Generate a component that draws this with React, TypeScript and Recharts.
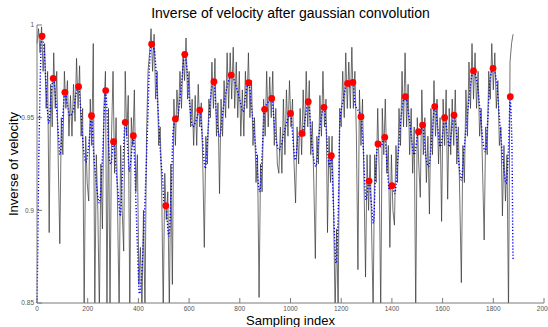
import React from 'react';
import { ComposedChart, Line, XAxis, YAxis } from 'recharts';

// raw signal, one reading every 6 samples (0, 6, 12 ... 1878)
const rawStep = 6;
const rawValues = [
  0.990, 0.998, 0.985, 0.999, 0.975, 0.990, 0.955, 0.975, 0.888, 0.968,
  0.945, 0.985, 0.955, 0.975, 0.925, 0.882, 0.950, 0.930, 0.975, 0.955,
  0.970, 0.940, 0.962, 0.940, 0.968, 0.948, 0.982, 0.955, 0.978, 0.940,
  0.955, 0.845, 0.940, 0.915, 0.905, 0.960, 0.935, 0.990, 0.845, 0.930,
  0.900, 0.845, 0.925, 0.890, 0.955, 0.975, 0.848, 0.955, 0.845, 0.940,
  0.975, 0.920, 0.950, 0.900, 0.845, 0.935, 0.900, 0.878, 0.975, 0.940,
  0.962, 0.845, 0.950, 0.935, 0.965, 0.910, 0.930, 0.860, 0.880, 0.845,
  0.900, 0.845, 0.940, 0.975, 0.985, 0.998, 0.975, 0.995, 0.960, 0.975,
  0.935, 0.945, 0.910, 0.845, 0.920, 0.895, 0.910, 0.845, 0.925, 0.860,
  0.960, 0.935, 0.965, 0.950, 0.975, 0.955, 0.985, 0.970, 0.993, 0.960,
  0.975, 0.945, 0.960, 0.935, 0.962, 0.935, 0.968, 0.945, 0.958, 0.925,
  0.880, 0.940, 0.925, 0.960, 0.950, 0.980, 0.955, 0.982, 0.940, 0.958,
  0.909, 0.960, 0.940, 0.970, 0.950, 0.985, 0.955, 0.985, 0.960, 0.988,
  0.955, 0.980, 0.950, 0.975, 0.940, 0.965, 0.940, 0.975, 0.955, 0.985,
  0.950, 0.970, 0.935, 0.950, 0.915, 0.930, 0.853, 0.925, 0.910, 0.960,
  0.940, 0.975, 0.945, 0.972, 0.950, 0.975, 0.935, 0.955, 0.925, 0.920,
  0.945, 0.920, 0.960, 0.930, 0.965, 0.940, 0.970, 0.945, 0.960, 0.925,
  0.904, 0.945, 0.925, 0.955, 0.930, 0.965, 0.940, 0.975, 0.945, 0.970,
  0.930, 0.948, 0.915, 0.874, 0.940, 0.925, 0.962, 0.940, 0.975, 0.945,
  0.960, 0.888, 0.940, 0.915, 0.940, 0.900, 0.845, 0.890, 0.845, 0.955,
  0.945, 0.975, 0.950, 0.985, 0.955, 0.980, 0.955, 0.988, 0.955, 0.975,
  0.940, 0.868, 0.965, 0.935, 0.960, 0.915, 0.864, 0.930, 0.900, 0.930,
  0.890, 0.845, 0.930, 0.915, 0.955, 0.920, 0.845, 0.955, 0.930, 0.960,
  0.920, 0.935, 0.880, 0.930, 0.900, 0.892, 0.935, 0.915, 0.955, 0.935,
  0.975, 0.945, 0.985, 0.945, 0.968, 0.930, 0.955, 0.920, 0.945, 0.845,
  0.950, 0.925, 0.907, 0.965, 0.930, 0.950, 0.915, 0.940, 0.898, 0.955,
  0.930, 0.970, 0.940, 0.960, 0.925, 0.950, 0.894, 0.960, 0.935, 0.965,
  0.906, 0.955, 0.930, 0.960, 0.935, 0.965, 0.925, 0.945, 0.905, 0.861,
  0.935, 0.915, 0.965, 0.940, 0.980, 0.955, 0.990, 0.960, 0.985, 0.955,
  0.975, 0.940, 0.955, 0.920, 0.884, 0.945, 0.930, 0.975, 0.960, 0.990,
  0.965, 0.985, 0.955, 0.970, 0.935, 0.945, 0.897, 0.935, 0.905, 0.930,
  0.845, 0.980, 0.990, 0.995,
];

// gaussian smoothed curve (sample index / value)
const smoothIdx = [
  0, 3, 5, 7, 9, 11, 13, 16, 20, 29, 36, 42, 47, 55, 64, 75, 85, 91, 101, 110,
  121, 130, 143, 154, 164, 174, 183, 193, 206, 215, 222, 233, 246, 259, 271, 279, 286, 292, 302, 312,
  322, 328, 338, 348, 358, 364, 371, 380, 388, 397, 404, 414, 423, 437, 443, 452, 463, 476, 489, 495,
  502, 508, 520, 530, 537, 546, 556, 569, 583, 592, 602, 615, 628, 642, 652, 664, 675, 688, 698, 707,
  720, 734, 753, 766, 780, 800, 813, 826, 835, 846, 865, 878, 888, 898, 909, 926, 938, 955, 977, 1000,
  1011, 1018, 1031, 1045, 1057, 1070, 1084, 1100, 1116, 1132, 1143, 1153, 1161, 1169, 1180, 1189, 1195, 1208, 1218, 1225,
  1235, 1246, 1254, 1278, 1287, 1298, 1310, 1320, 1327, 1336, 1345, 1356, 1372, 1382, 1390, 1400, 1411, 1425, 1438, 1453,
  1469, 1488, 1505, 1513, 1521, 1532, 1545, 1558, 1569, 1580, 1591, 1602, 1608, 1620, 1625, 1636, 1645, 1654, 1663, 1674,
  1683, 1696, 1709, 1722, 1736, 1749, 1762, 1769, 1778, 1786, 1799, 1812, 1825, 1838, 1851, 1861, 1867, 1870, 1872, 1874,
  1875, 1876, 1878,
];
const smoothVal = [
  0.85, 0.88, 0.905, 0.926, 0.943, 0.958, 0.972, 0.988, 0.994, 0.985, 0.967, 0.952, 0.947, 0.961, 0.971, 0.958, 0.94, 0.93, 0.949, 0.9637,
  0.956, 0.951, 0.954, 0.963, 0.9667, 0.952, 0.934, 0.926, 0.938, 0.951, 0.934, 0.916, 0.904, 0.931, 0.9646, 0.945, 0.927, 0.925, 0.937, 0.922,
  0.906, 0.897, 0.922, 0.9475, 0.933, 0.921, 0.928, 0.9403, 0.913, 0.877, 0.855, 0.868, 0.895, 0.949, 0.976, 0.9897, 0.9865, 0.958, 0.927, 0.918,
  0.903, 0.9025, 0.886, 0.913, 0.943, 0.9493, 0.952, 0.9667, 0.9842, 0.9757, 0.9577, 0.945, 0.9487, 0.9541, 0.9397, 0.9226, 0.9433, 0.965, 0.9694, 0.9523,
  0.9397, 0.9541, 0.9685, 0.973, 0.9694, 0.9595, 0.9532, 0.965, 0.9689, 0.956, 0.9307, 0.91, 0.9307, 0.9545, 0.9577, 0.9604, 0.9433, 0.9325, 0.9433, 0.9523,
  0.9361, 0.9271, 0.9397, 0.9415, 0.9487, 0.9586, 0.9361, 0.9236, 0.9451, 0.9556, 0.9397, 0.9236, 0.9295, 0.9038, 0.8714, 0.9038, 0.9487, 0.9595, 0.9667, 0.9685,
  0.9667, 0.969, 0.9577, 0.9505, 0.934, 0.9056, 0.9158, 0.902, 0.893, 0.9218, 0.9358, 0.9343, 0.9394, 0.9218, 0.911, 0.9133, 0.909, 0.9307, 0.9523, 0.9613,
  0.9487, 0.93, 0.9424, 0.941, 0.946, 0.9307, 0.9236, 0.9397, 0.956, 0.9451, 0.9343, 0.9433, 0.95, 0.9397, 0.9343, 0.9433, 0.9514, 0.9433, 0.9271, 0.9163,
  0.9307, 0.9487, 0.9667, 0.9752, 0.9685, 0.9523, 0.9343, 0.9316, 0.9487, 0.9685, 0.9766, 0.9703, 0.9487, 0.9271, 0.9145, 0.938, 0.9613, 0.952, 0.944, 0.93,
  0.917, 0.897, 0.873,
];

// detected extrema (red markers)
const peakIdx = [
  20, 64, 110, 164, 215, 271, 302, 348, 380, 452, 508, 546, 583, 642, 698, 766, 835, 898, 926, 1000,
  1045, 1070, 1132, 1161, 1225, 1246, 1278, 1310, 1345, 1372, 1400, 1453, 1505, 1521, 1569, 1608, 1645, 1722, 1799, 1867,
];
const peakVal = [
  0.994, 0.9712, 0.9637, 0.9667, 0.9511, 0.9646, 0.937, 0.9475, 0.9403, 0.9897, 0.9025, 0.9493, 0.9842, 0.9541, 0.9694, 0.973, 0.9689, 0.9545, 0.9604, 0.9523,
  0.9415, 0.9586, 0.9556, 0.9295, 0.9685, 0.969, 0.9505, 0.9158, 0.9358, 0.9394, 0.9133, 0.9613, 0.9424, 0.946, 0.956, 0.95, 0.9514, 0.9752, 0.9766, 0.9613,
];

const xTicks = [0, 200, 400, 600, 800, 1000, 1200, 1400, 1600, 1800, 2000];
const yTicks = [0.85, 0.9, 0.95, 1];

const rawData = rawValues.map((v, i) => ({ x: i * rawStep, y: v }));
const smoothData = smoothIdx.map((x, i) => ({ x, y: smoothVal[i] }));
const peakData = peakIdx.map((x, i) => ({ x, y: peakVal[i] }));

const axisColor = '#7a7a7a';
const fontFamily = 'Liberation Sans, Arial, sans-serif';
const tickFont = { fontSize: 6.5, fill: '#555', fontFamily };
const labelFont = { fontSize: 13, fill: '#000', fontFamily };

export default function App() {
  return (
    <div style={{ position: 'absolute', left: 0, top: 0, width: 548, height: 327, background: '#fff' }}>
      <div
        style={{
          position: 'absolute',
          left: 37,
          width: 507,
          top: 5,
          textAlign: 'center',
          fontFamily,
          fontSize: 14,
          color: '#000',
        }}
      >
        Inverse of velocity after gaussian convolution
      </div>
      <ComposedChart width={548} height={327} margin={{ top: 25, right: 4, left: 0, bottom: 0 }}>
        <XAxis
          type="number"
          dataKey="x"
          domain={[0, 2000]}
          ticks={xTicks}
          height={24}
          stroke={axisColor}
          tickSize={-5}
          tickMargin={8}
          tick={tickFont}
          interval={0}
          label={{ value: 'Sampling index', position: 'insideBottom', offset: 2, style: labelFont }}
        />
        <XAxis
          xAxisId="top"
          orientation="top"
          type="number"
          dataKey="x"
          domain={[0, 2000]}
          ticks={xTicks}
          height={0}
          stroke={axisColor}
          tickSize={-5}
          tick={false}
        />
        <YAxis
          type="number"
          domain={[0.85, 1]}
          ticks={yTicks}
          allowDataOverflow
          width={37}
          stroke={axisColor}
          tickSize={-5}
          tickMargin={8}
          tick={tickFont}
          interval={0}
          label={{ value: 'Inverse of velocity', angle: -90, position: 'insideLeft', offset: 13, style: { ...labelFont, textAnchor: 'middle' } }}
        />
        <YAxis
          yAxisId="right"
          orientation="right"
          type="number"
          domain={[0.85, 1]}
          ticks={yTicks}
          width={0}
          stroke={axisColor}
          tickSize={-5}
          tick={false}
        />
        <Line
          data={rawData}
          dataKey="y"
          type="linear"
          stroke="#333"
          strokeWidth={0.7}
          dot={false}
          isAnimationActive={false}
        />
        <Line
          data={smoothData}
          dataKey="y"
          type="monotone"
          stroke="#0000ff"
          strokeWidth={1.4}
          strokeDasharray="1.2 1.9"
          dot={false}
          isAnimationActive={false}
        />
        <Line
          data={peakData}
          dataKey="y"
          stroke="none"
          dot={{ r: 3.4, fill: '#ff0000', stroke: 'none' }}
          isAnimationActive={false}
        />
      </ComposedChart>
    </div>
  );
}
